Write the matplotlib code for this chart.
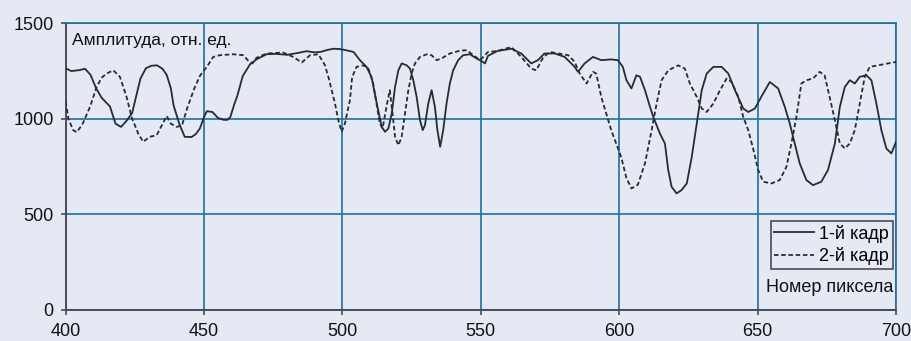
import numpy as np
import matplotlib
matplotlib.use('Agg')
import matplotlib.pyplot as plt

plt.rcParams['font.family'] = ['Liberation Sans', 'DejaVu Sans']

# Frame 1 (solid line): pixel number / amplitude
frame1_x = [400, 402, 405, 407, 409, 411, 413, 416, 418, 420, 422, 424, 426, 427, 429, 431,
            433, 435, 436.5, 438, 439, 441, 443, 445.5, 447, 448.5, 450, 451, 453, 455, 457,
            458.5, 459.5, 461, 462, 464, 466.6, 469, 472.6, 476, 480, 484, 487, 490, 492, 495,
            497, 499, 501, 504, 506.3, 508.7, 510.5, 511.7, 512.9, 514.2, 515.4, 516.6, 517.8,
            519, 520.2, 521.4, 523.2, 524.4, 525.6, 526.8, 528, 529, 529.8, 531, 532.2, 533.4,
            534.3, 535.3, 536.4, 537.6, 538.8, 540, 541.8, 543.6, 546, 548.5, 550.5, 551.5,
            552.6, 556, 561, 564.6, 568.2, 570.6, 573, 576.7, 580.3, 583.9, 585.1, 587.5, 590.5,
            593.5, 597, 599.5, 601.3, 602.6, 604.4, 606.2, 607.5, 609.3, 611.1, 612.3, 614.7,
            616.5, 617.7, 618.9, 620.7, 622.5, 624.4, 626.2, 628, 629.8, 631.6, 634, 637, 639.4,
            641.8, 644.8, 646.6, 649, 651.3, 654.4, 657.4, 659.8, 661.6, 663.4, 665.2, 667.6,
            670, 673, 675.4, 677.9, 679.7, 681.5, 683.3, 685.1, 686.9, 689.3, 691.1, 692.9,
            694.7, 696.5, 698.3, 700]
frame1_y = [1265, 1250, 1255, 1262, 1230, 1160, 1110, 1065, 975, 958, 990, 1030, 1150, 1210,
            1265, 1278, 1280, 1262, 1230, 1160, 1070, 976, 906, 905, 920, 950, 1010, 1040, 1036,
            1005, 995, 995, 1010, 1080, 1120, 1225, 1285, 1312, 1338, 1340, 1335, 1345, 1354,
            1348, 1350, 1362, 1367, 1365, 1360, 1350, 1307, 1272, 1219, 1133, 1045, 958, 932,
            950, 1028, 1167, 1254, 1290, 1280, 1263, 1202, 1115, 993, 941, 967, 1080, 1150,
            1063, 941, 854, 941, 1080, 1185, 1254, 1307, 1333, 1338, 1316, 1300, 1290, 1330,
            1355, 1367, 1342, 1290, 1307, 1342, 1342, 1324, 1272, 1246, 1290, 1324, 1307, 1311,
            1307, 1272, 1202, 1159, 1228, 1220, 1150, 1063, 1010, 923, 871, 732, 645, 610, 627,
            662, 801, 976, 1150, 1237, 1272, 1272, 1237, 1150, 1054, 1036, 1054, 1115, 1193,
            1159, 1063, 976, 871, 767, 680, 653, 671, 732, 871, 1063, 1167, 1202, 1185, 1220,
            1228, 1202, 1080, 941, 845, 819, 880]

# Frame 2 (dashed line)
frame2_x = [400, 401, 402.7, 404, 406, 408.8, 411.2, 413, 414.8, 417.2, 419.6, 422, 423.8,
            426.2, 428, 430.4, 432.9, 434.5, 436.5, 438, 440, 442, 444, 446.5, 448.5, 451,
            453.3, 455.7, 460.5, 464.2, 466.2, 467.5, 469, 472.6, 478.6, 482.2, 485.3, 488.3,
            491.3, 493.7, 495, 496.1, 497.3, 498.5, 499.7, 500.9, 502.7, 503.5, 505.1, 507.5,
            509.3, 511.1, 512.3, 513.5, 514.5, 515.9, 517.1, 518.1, 519, 520.2, 521.4, 522.6,
            523.8, 525, 526.2, 528, 530.5, 532.2, 534, 535.8, 538.8, 542.5, 544.9, 547.3,
            549.7, 552.6, 556, 561, 564.6, 568.2, 570, 572.6, 575, 578, 581.6, 583.9, 585.7,
            588.2, 590.5, 591.7, 593.5, 595.3, 597.1, 598.9, 600.7, 602.6, 604.4, 606.7, 609.3,
            611.7, 613.5, 615.3, 617.7, 621.3, 623.7, 625.5, 628, 629.8, 631.6, 634, 636.4,
            638.8, 640.6, 643, 644.8, 646.6, 648.5, 650.2, 652, 655, 658, 660.4, 662.2, 664,
            665.8, 667.6, 670, 672.4, 674.2, 676, 677.9, 679.7, 681.5, 683.3, 685.1, 686.9,
            688.7, 690.5, 693.5, 697.1, 700]
frame2_y = [1090, 1000, 941, 930, 970, 1063, 1167, 1215, 1237, 1254, 1220, 1115, 1010, 923,
            880, 906, 915, 960, 1015, 975, 958, 965, 1060, 1160, 1225, 1272, 1324, 1333, 1338,
            1333, 1300, 1290, 1320, 1342, 1347, 1324, 1295, 1333, 1338, 1280, 1215, 1150, 1080,
            993, 932, 976, 1098, 1219, 1272, 1280, 1265, 1185, 1080, 976, 950, 1063, 1150, 1028,
            906, 862, 906, 1028, 1150, 1237, 1290, 1324, 1338, 1333, 1307, 1316, 1342, 1357,
            1359, 1333, 1307, 1350, 1355, 1376, 1324, 1263, 1254, 1324, 1350, 1342, 1333, 1298,
            1237, 1185, 1246, 1237, 1115, 1028, 941, 871, 800, 690, 636, 655, 767, 941, 1080,
            1202, 1254, 1280, 1263, 1185, 1115, 1054, 1036, 1080, 1150, 1211, 1193, 1115, 1010,
            941, 836, 732, 671, 662, 680, 749, 871, 1010, 1185, 1202, 1211, 1246, 1228, 1115,
            993, 871, 845, 871, 941, 1080, 1220, 1272, 1280, 1290, 1298]

x_ticks = [400, 450, 500, 550, 600, 650, 700]
y_ticks = [0, 500, 1000, 1500]

BG = '#e4e9f3'
GRID = '#1f6f9f'
DARK = '#4a4a55'

fig = plt.figure(figsize=(9.12, 3.41), dpi=100, facecolor=BG)
ax = fig.add_axes([0.072, 0.091, 0.9105, 0.8407], facecolor=BG)

ax.plot(frame1_x, frame1_y, color='#2a2a30', lw=1.3, label='1-й кадр', zorder=3)
ax.plot(frame2_x, frame2_y, color='#2a2a30', lw=1.3, linestyle=(0, (2.5, 1.5)),
        label='2-й кадр', zorder=3)

ax.set_xlim(400, 700)
ax.set_ylim(0, 1500)
ax.set_xticks(x_ticks)
ax.set_yticks(y_ticks)
ax.grid(True, color=GRID, lw=1.2, zorder=1)
ax.set_axisbelow(True)

for side in ['top', 'right']:
    ax.spines[side].set_color(GRID)
    ax.spines[side].set_linewidth(1.2)
for side in ['left', 'bottom']:
    ax.spines[side].set_color(DARK)
    ax.spines[side].set_linewidth(1.4)

ax.tick_params(axis='both', direction='out', length=3.6, width=1.2, color=DARK,
               labelsize=13, labelcolor='#111111')
ax.tick_params(axis='x', pad=6)
ax.tick_params(axis='y', pad=5)

ax.text(0.008, 0.94, 'Амплитуда, отн. ед.', transform=ax.transAxes,
        fontsize=12.5, ha='left', va='center', color='#111111')
ax.text(0.997, 0.077, 'Номер пиксела', transform=ax.transAxes,
        fontsize=13, ha='right', va='center', color='#111111')

leg = ax.legend(loc='upper right', bbox_to_anchor=(0.996, 0.31), borderaxespad=0,
                fontsize=13, frameon=True, fancybox=False, handlelength=2.2,
                handletextpad=0.3, borderpad=0.2, labelspacing=0.25)
leg.get_frame().set_edgecolor(DARK)
leg.get_frame().set_facecolor(BG)
leg.get_frame().set_alpha(1)
leg.get_frame().set_linewidth(1.2)

fig.savefig('out.png', dpi=100, facecolor=BG)
